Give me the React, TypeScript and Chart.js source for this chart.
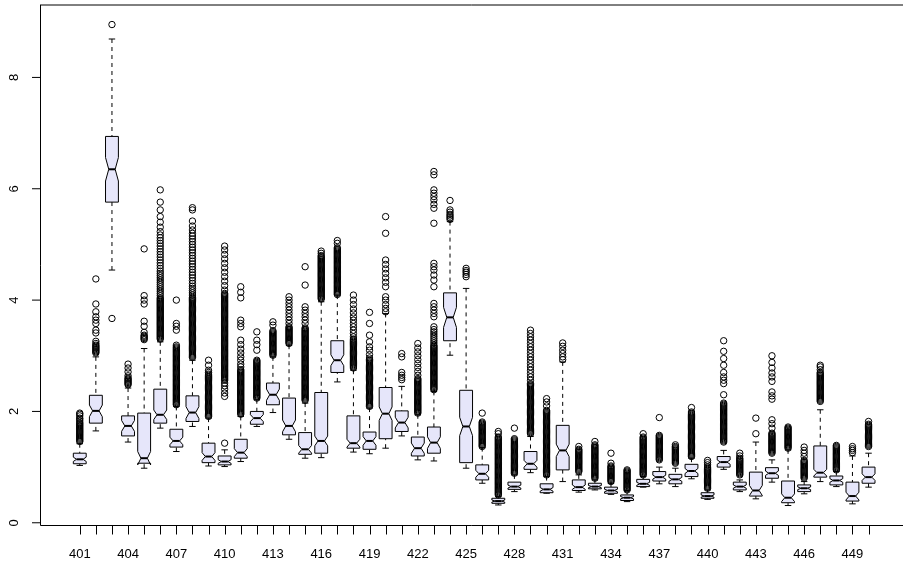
import { useEffect, useRef } from "react";
import { Chart, registerables } from "chart.js";

Chart.register(...registerables);

// Station codes 401..450
const stations: number[] = [
  401, 402, 403, 404, 405, 406, 407, 408, 409, 410,
  411, 412, 413, 414, 415, 416, 417, 418, 419, 420,
  421, 422, 423, 424, 425, 426, 427, 428, 429, 430,
  431, 432, 433, 434, 435, 436, 437, 438, 439, 440,
  441, 442, 443, 444, 445, 446, 447, 448, 449, 450,
];

// Five-number summaries per station
const whiskerLow: number[] = [
  1.03, 1.65, 4.54, 1.45, 0.98, 1.70, 1.28, 1.73, 1.02, 1.01,
  1.10, 1.73, 1.98, 1.50, 1.16, 1.17, 2.53, 1.27, 1.24, 1.34,
  1.56, 1.13, 1.11, 3.01, 0.98, 0.71, 0.32, 0.56, 0.90, 0.53,
  0.74, 0.55, 0.59, 0.51, 0.38, 0.64, 0.70, 0.65, 0.79, 0.42,
  0.96, 0.56, 0.43, 0.73, 0.31, 0.52, 0.74, 0.65, 0.34, 0.64,
];
const lowerHinge: number[] = [
  1.06, 1.79, 5.76, 1.56, 1.07, 1.79, 1.36, 1.82, 1.08, 1.04,
  1.16, 1.77, 2.12, 1.58, 1.23, 1.25, 2.70, 1.34, 1.32, 1.51,
  1.64, 1.20, 1.25, 3.27, 1.08, 0.77, 0.35, 0.60, 0.96, 0.54,
  0.95, 0.58, 0.61, 0.53, 0.40, 0.65, 0.75, 0.70, 0.83, 0.44,
  1.00, 0.59, 0.48, 0.80, 0.36, 0.56, 0.82, 0.68, 0.39, 0.71,
];
const medians: number[] = [
  1.14, 2.01, 6.35, 1.74, 1.16, 1.94, 1.47, 1.98, 1.19, 1.10,
  1.26, 1.88, 2.30, 1.74, 1.32, 1.47, 2.92, 1.43, 1.47, 1.96,
  1.80, 1.34, 1.44, 3.69, 1.73, 0.88, 0.39, 0.65, 1.06, 0.60,
  1.30, 0.64, 0.65, 0.58, 0.45, 0.70, 0.82, 0.78, 0.93, 0.48,
  1.09, 0.65, 0.58, 0.89, 0.45, 0.62, 0.90, 0.76, 0.48, 0.82,
];
const upperHinge: number[] = [
  1.25, 2.29, 6.94, 1.92, 1.97, 2.40, 1.68, 2.28, 1.43, 1.20,
  1.50, 2.00, 2.51, 2.24, 1.62, 2.34, 3.27, 1.92, 1.63, 2.43,
  2.01, 1.54, 1.72, 4.13, 2.38, 1.04, 0.44, 0.73, 1.28, 0.70,
  1.75, 0.77, 0.71, 0.64, 0.50, 0.78, 0.92, 0.87, 1.05, 0.54,
  1.19, 0.73, 0.91, 0.99, 0.75, 0.68, 1.38, 0.84, 0.73, 1.00,
];
const whiskerHigh: number[] = [
  1.42, 2.98, 8.69, 2.42, 3.13, 3.25, 2.09, 2.92, 1.88, 1.31,
  1.91, 2.21, 2.98, 3.19, 2.15, 3.97, 4.09, 2.74, 2.06, 3.76,
  2.45, 1.94, 2.36, 5.41, 4.21, 1.35, 0.47, 0.86, 1.55, 0.83,
  2.89, 0.86, 0.77, 0.71, 0.58, 0.83, 1.00, 0.98, 1.16, 0.59,
  1.30, 0.77, 1.45, 1.13, 1.31, 0.74, 2.03, 0.92, 1.20, 1.25,
];
// Observations per station (sets the notch height)
const sampleSizes: number[] = [
  60, 57, 78, 34, 141, 128, 56, 47, 63, 60,
  56, 34, 37, 98, 80, 390, 84, 170, 40, 146,
  37, 34, 51, 57, 155, 47, 60, 60, 68, 60,
  127, 60, 60, 60, 60, 60, 60, 60, 60, 60,
  60, 60, 56, 60, 80, 60, 218, 60, 60, 60,
];

// Points beyond the whiskers
const outliers: number[][] = [
  [1.46, 1.48, 1.5, 1.52, 1.54, 1.56, 1.58, 1.6, 1.62, 1.64, 1.66, 1.68, 1.7, 1.72, 1.74, 1.76, 1.78, 1.8, 1.83, 1.86, 1.88, 1.92, 1.95, 1.97],
  [3.05, 3.07, 3.09, 3.11, 3.13, 3.15, 3.17, 3.19, 3.22, 3.26, 3.41, 3.46, 3.58, 3.64, 3.7, 3.79, 3.93, 4.38],
  [3.67, 8.95],
  [2.48, 2.5, 2.52, 2.54, 2.56, 2.58, 2.6, 2.64, 2.71, 2.78, 2.85],
  [3.29, 3.31, 3.33, 3.35, 3.37, 3.42, 3.53, 3.62, 3.93, 4.0, 4.08, 4.92],
  [3.3, 3.32, 3.34, 3.36, 3.38, 3.4, 3.42, 3.44, 3.46, 3.48, 3.5, 3.52, 3.54, 3.56, 3.58, 3.6, 3.62, 3.64, 3.66, 3.68, 3.7, 3.72, 3.74, 3.76, 3.78, 3.8, 3.82, 3.84, 3.86, 3.88, 3.9, 3.92, 3.94, 3.96, 3.98, 4.0, 4.02, 4.04, 4.08, 4.12, 4.16, 4.2, 4.24, 4.28, 4.32, 4.36, 4.4, 4.44, 4.48, 4.52, 4.57, 4.62, 4.67, 4.72, 4.77, 4.82, 4.87, 4.92, 4.97, 5.02, 5.07, 5.12, 5.17, 5.23, 5.31, 5.4, 5.5, 5.62, 5.76, 5.98],
  [2.12, 2.14, 2.16, 2.18, 2.2, 2.22, 2.24, 2.26, 2.28, 2.3, 2.32, 2.34, 2.36, 2.38, 2.4, 2.42, 2.44, 2.46, 2.48, 2.5, 2.52, 2.54, 2.56, 2.58, 2.6, 2.62, 2.64, 2.66, 2.68, 2.7, 2.72, 2.74, 2.76, 2.78, 2.8, 2.82, 2.84, 2.86, 2.88, 2.9, 2.92, 2.94, 2.96, 2.98, 3.0, 3.02, 3.04, 3.06, 3.08, 3.1, 3.12, 3.14, 3.16, 3.19, 3.46, 3.53, 3.58, 4.0],
  [2.97, 2.99, 3.01, 3.03, 3.05, 3.07, 3.09, 3.11, 3.13, 3.15, 3.17, 3.19, 3.21, 3.23, 3.25, 3.27, 3.29, 3.31, 3.33, 3.35, 3.37, 3.39, 3.41, 3.43, 3.45, 3.47, 3.49, 3.51, 3.53, 3.55, 3.57, 3.59, 3.61, 3.63, 3.65, 3.67, 3.69, 3.71, 3.73, 3.75, 3.77, 3.79, 3.81, 3.83, 3.85, 3.87, 3.89, 3.91, 3.93, 3.95, 3.97, 3.99, 4.01, 4.03, 4.05, 4.09, 4.13, 4.17, 4.21, 4.25, 4.3, 4.35, 4.4, 4.45, 4.5, 4.55, 4.6, 4.65, 4.7, 4.75, 4.8, 4.85, 4.9, 4.95, 5.0, 5.05, 5.1, 5.15, 5.2, 5.26, 5.33, 5.42, 5.62, 5.66],
  [1.91, 1.93, 1.95, 1.97, 1.99, 2.01, 2.03, 2.05, 2.07, 2.09, 2.11, 2.13, 2.15, 2.17, 2.19, 2.21, 2.23, 2.25, 2.27, 2.29, 2.31, 2.33, 2.35, 2.37, 2.39, 2.41, 2.43, 2.45, 2.47, 2.49, 2.51, 2.53, 2.55, 2.57, 2.59, 2.61, 2.63, 2.65, 2.67, 2.7, 2.74, 2.83, 2.92],
  [1.43, 2.27, 2.33, 2.4, 2.46, 2.51, 2.56, 2.58, 2.6, 2.62, 2.64, 2.66, 2.68, 2.7, 2.72, 2.74, 2.76, 2.78, 2.8, 2.82, 2.84, 2.86, 2.88, 2.9, 2.92, 2.94, 2.96, 2.98, 3.0, 3.02, 3.04, 3.06, 3.08, 3.1, 3.12, 3.14, 3.16, 3.18, 3.2, 3.22, 3.24, 3.26, 3.28, 3.3, 3.32, 3.34, 3.36, 3.38, 3.4, 3.42, 3.44, 3.46, 3.48, 3.5, 3.52, 3.54, 3.56, 3.58, 3.6, 3.62, 3.64, 3.66, 3.68, 3.7, 3.72, 3.74, 3.76, 3.78, 3.8, 3.82, 3.84, 3.86, 3.88, 3.9, 3.92, 3.94, 3.96, 3.98, 4.0, 4.02, 4.04, 4.06, 4.08, 4.1, 4.12, 4.18, 4.26, 4.34, 4.42, 4.5, 4.58, 4.66, 4.74, 4.82, 4.9, 4.97],
  [1.95, 1.97, 1.99, 2.01, 2.03, 2.05, 2.07, 2.09, 2.11, 2.13, 2.15, 2.17, 2.19, 2.21, 2.23, 2.25, 2.27, 2.29, 2.31, 2.33, 2.35, 2.37, 2.39, 2.41, 2.43, 2.45, 2.47, 2.49, 2.51, 2.53, 2.55, 2.57, 2.59, 2.61, 2.63, 2.65, 2.67, 2.69, 2.71, 2.73, 2.75, 2.8, 2.85, 2.92, 2.98, 3.05, 3.12, 3.2, 3.28, 3.52, 3.58, 3.64, 4.04, 4.14, 4.24],
  [2.24, 2.26, 2.28, 2.3, 2.32, 2.34, 2.36, 2.38, 2.4, 2.42, 2.44, 2.46, 2.48, 2.5, 2.52, 2.54, 2.56, 2.58, 2.6, 2.62, 2.64, 2.66, 2.68, 2.7, 2.72, 2.74, 2.76, 2.78, 2.8, 2.82, 2.84, 2.86, 2.88, 2.9, 2.92, 3.1, 3.2, 3.28, 3.43],
  [3.01, 3.03, 3.05, 3.07, 3.09, 3.11, 3.13, 3.15, 3.17, 3.19, 3.21, 3.23, 3.25, 3.27, 3.29, 3.31, 3.33, 3.35, 3.37, 3.39, 3.41, 3.43, 3.45, 3.55, 3.61],
  [3.22, 3.24, 3.26, 3.28, 3.3, 3.32, 3.34, 3.36, 3.38, 3.4, 3.42, 3.44, 3.46, 3.48, 3.5, 3.52, 3.58, 3.64, 3.7, 3.76, 3.82, 3.88, 3.94, 4.0, 4.06],
  [2.2, 2.22, 2.24, 2.26, 2.28, 2.3, 2.32, 2.34, 2.36, 2.38, 2.4, 2.42, 2.44, 2.46, 2.48, 2.5, 2.52, 2.54, 2.56, 2.58, 2.6, 2.62, 2.64, 2.66, 2.68, 2.7, 2.72, 2.74, 2.76, 2.78, 2.8, 2.82, 2.84, 2.86, 2.88, 2.9, 2.92, 2.94, 2.96, 2.98, 3.0, 3.02, 3.04, 3.06, 3.08, 3.1, 3.12, 3.14, 3.16, 3.18, 3.2, 3.22, 3.24, 3.26, 3.28, 3.3, 3.32, 3.34, 3.36, 3.38, 3.4, 3.42, 3.44, 3.46, 3.48, 3.5, 3.58, 3.64, 3.7, 3.76, 3.82, 3.88, 4.27, 4.6],
  [4.02, 4.04, 4.06, 4.08, 4.1, 4.12, 4.14, 4.16, 4.18, 4.2, 4.22, 4.24, 4.26, 4.28, 4.3, 4.32, 4.34, 4.36, 4.38, 4.4, 4.42, 4.44, 4.46, 4.48, 4.5, 4.52, 4.54, 4.56, 4.58, 4.6, 4.62, 4.64, 4.66, 4.68, 4.7, 4.72, 4.74, 4.76, 4.78, 4.8, 4.84, 4.88],
  [4.1, 4.12, 4.14, 4.16, 4.18, 4.2, 4.22, 4.24, 4.26, 4.28, 4.3, 4.32, 4.34, 4.36, 4.38, 4.4, 4.42, 4.44, 4.46, 4.48, 4.5, 4.52, 4.54, 4.56, 4.58, 4.6, 4.62, 4.64, 4.66, 4.68, 4.7, 4.72, 4.74, 4.76, 4.78, 4.8, 4.82, 4.84, 4.86, 4.88, 4.9, 4.92, 4.94, 5.02, 5.07],
  [2.78, 2.8, 2.82, 2.84, 2.86, 2.88, 2.9, 2.92, 2.94, 2.96, 2.98, 3.0, 3.02, 3.04, 3.06, 3.08, 3.1, 3.12, 3.14, 3.16, 3.18, 3.2, 3.22, 3.24, 3.26, 3.28, 3.3, 3.34, 3.4, 3.46, 3.52, 3.58, 3.64, 3.7, 3.77, 3.84, 3.92, 4.0, 4.09],
  [2.09, 2.11, 2.13, 2.15, 2.17, 2.19, 2.21, 2.23, 2.25, 2.27, 2.29, 2.31, 2.33, 2.35, 2.37, 2.39, 2.41, 2.43, 2.45, 2.47, 2.49, 2.51, 2.53, 2.55, 2.57, 2.59, 2.61, 2.63, 2.65, 2.67, 2.69, 2.71, 2.73, 2.75, 2.77, 2.79, 2.81, 2.83, 2.85, 2.87, 2.89, 2.91, 2.93, 2.96, 3.02, 3.1, 3.16, 3.25, 3.37, 3.58, 3.78],
  [3.79, 3.85, 3.92, 4.0, 4.06, 4.24, 4.32, 4.4, 4.48, 4.56, 4.64, 4.72, 5.2, 5.5],
  [2.57, 2.61, 2.65, 2.7, 2.98, 3.04],
  [1.97, 1.99, 2.01, 2.03, 2.05, 2.07, 2.09, 2.11, 2.13, 2.15, 2.17, 2.19, 2.21, 2.23, 2.25, 2.27, 2.29, 2.31, 2.33, 2.35, 2.37, 2.39, 2.41, 2.43, 2.45, 2.47, 2.49, 2.51, 2.53, 2.55, 2.57, 2.59, 2.65, 2.72, 2.79, 2.86, 2.93, 3.0, 3.07, 3.14, 3.22],
  [2.39, 2.41, 2.43, 2.45, 2.47, 2.49, 2.51, 2.53, 2.55, 2.57, 2.59, 2.61, 2.63, 2.65, 2.67, 2.69, 2.71, 2.73, 2.75, 2.77, 2.79, 2.81, 2.83, 2.85, 2.87, 2.89, 2.91, 2.93, 2.95, 2.97, 2.99, 3.01, 3.03, 3.05, 3.07, 3.09, 3.11, 3.13, 3.15, 3.17, 3.19, 3.23, 3.27, 3.31, 3.35, 3.39, 3.43, 3.47, 3.52, 3.7, 3.76, 3.82, 3.88, 3.94, 4.24, 4.36, 4.45, 4.54, 4.6, 4.66, 5.38, 5.65, 5.72, 5.8, 5.86, 5.92, 5.98, 6.25, 6.31],
  [5.45, 5.48, 5.51, 5.54, 5.58, 5.62, 5.79],
  [4.42, 4.46, 4.5, 4.53, 4.57],
  [1.37, 1.39, 1.41, 1.43, 1.45, 1.47, 1.49, 1.51, 1.53, 1.55, 1.57, 1.59, 1.61, 1.63, 1.65, 1.67, 1.69, 1.71, 1.73, 1.75, 1.77, 1.79, 1.81, 1.97],
  [0.5, 0.52, 0.54, 0.56, 0.58, 0.6, 0.62, 0.64, 0.66, 0.68, 0.7, 0.72, 0.74, 0.76, 0.78, 0.8, 0.82, 0.84, 0.86, 0.88, 0.9, 0.92, 0.94, 0.96, 0.98, 1.0, 1.02, 1.04, 1.06, 1.08, 1.1, 1.12, 1.14, 1.16, 1.18, 1.2, 1.22, 1.24, 1.26, 1.28, 1.3, 1.32, 1.34, 1.36, 1.38, 1.4, 1.42, 1.44, 1.46, 1.48, 1.5, 1.52, 1.54, 1.6, 1.64],
  [0.89, 0.91, 0.93, 0.95, 0.97, 0.99, 1.01, 1.03, 1.05, 1.07, 1.09, 1.11, 1.13, 1.15, 1.17, 1.19, 1.21, 1.23, 1.25, 1.27, 1.29, 1.31, 1.33, 1.35, 1.37, 1.39, 1.41, 1.43, 1.45, 1.47, 1.49, 1.51, 1.7],
  [1.6, 1.62, 1.64, 1.66, 1.68, 1.7, 1.72, 1.74, 1.76, 1.78, 1.8, 1.82, 1.84, 1.86, 1.88, 1.9, 1.92, 1.94, 1.96, 1.98, 2.0, 2.02, 2.04, 2.06, 2.08, 2.1, 2.12, 2.14, 2.16, 2.18, 2.2, 2.22, 2.24, 2.26, 2.28, 2.3, 2.32, 2.34, 2.36, 2.38, 2.4, 2.42, 2.44, 2.46, 2.48, 2.5, 2.56, 2.62, 2.68, 2.74, 2.8, 2.86, 2.92, 2.98, 3.04, 3.1, 3.16, 3.22, 3.28, 3.34, 3.4, 3.46],
  [0.86, 0.88, 0.9, 0.92, 0.94, 0.96, 0.98, 1.0, 1.02, 1.04, 1.06, 1.08, 1.1, 1.12, 1.14, 1.16, 1.18, 1.2, 1.22, 1.24, 1.26, 1.28, 1.3, 1.32, 1.34, 1.36, 1.38, 1.4, 1.42, 1.44, 1.46, 1.48, 1.5, 1.52, 1.54, 1.56, 1.58, 1.6, 1.62, 1.64, 1.66, 1.68, 1.7, 1.72, 1.74, 1.76, 1.78, 1.8, 1.82, 1.84, 1.86, 1.88, 1.9, 1.92, 1.94, 1.96, 1.98, 2.0, 2.02, 2.1, 2.17, 2.23],
  [2.93, 2.98, 3.04, 3.1, 3.17, 3.23],
  [0.92, 0.94, 0.96, 0.98, 1.0, 1.02, 1.04, 1.06, 1.08, 1.1, 1.12, 1.14, 1.16, 1.18, 1.2, 1.22, 1.24, 1.26, 1.28, 1.3, 1.32, 1.37],
  [0.8, 0.82, 0.84, 0.86, 0.88, 0.9, 0.92, 0.94, 0.96, 0.98, 1.0, 1.02, 1.04, 1.06, 1.08, 1.1, 1.12, 1.14, 1.16, 1.18, 1.2, 1.22, 1.24, 1.26, 1.28, 1.3, 1.32, 1.34, 1.36, 1.38, 1.4, 1.46],
  [0.74, 0.76, 0.78, 0.8, 0.82, 0.84, 0.86, 0.88, 0.9, 0.92, 0.94, 0.96, 0.98, 1.0, 1.02, 1.07, 1.25],
  [0.59, 0.61, 0.63, 0.65, 0.67, 0.69, 0.71, 0.73, 0.75, 0.77, 0.79, 0.81, 0.83, 0.85, 0.87, 0.89, 0.91, 0.93, 0.95],
  [0.86, 0.88, 0.9, 0.92, 0.94, 0.96, 0.98, 1.0, 1.02, 1.04, 1.06, 1.08, 1.1, 1.12, 1.14, 1.16, 1.18, 1.2, 1.22, 1.24, 1.26, 1.28, 1.3, 1.32, 1.34, 1.36, 1.38, 1.4, 1.42, 1.44, 1.46, 1.48, 1.5, 1.52, 1.54, 1.6],
  [1.13, 1.15, 1.17, 1.19, 1.21, 1.23, 1.25, 1.27, 1.29, 1.31, 1.33, 1.35, 1.37, 1.39, 1.41, 1.43, 1.45, 1.47, 1.49, 1.51, 1.53, 1.55, 1.57, 1.89],
  [1.07, 1.09, 1.11, 1.13, 1.15, 1.17, 1.19, 1.21, 1.23, 1.25, 1.27, 1.29, 1.31, 1.33, 1.35, 1.37, 1.4],
  [1.19, 1.21, 1.23, 1.25, 1.27, 1.29, 1.31, 1.33, 1.35, 1.37, 1.39, 1.41, 1.43, 1.45, 1.47, 1.49, 1.51, 1.53, 1.55, 1.57, 1.59, 1.61, 1.63, 1.65, 1.67, 1.69, 1.71, 1.73, 1.75, 1.77, 1.79, 1.81, 1.83, 1.85, 1.87, 1.89, 1.91, 1.93, 1.95, 1.97, 1.99, 2.07],
  [0.62, 0.64, 0.66, 0.68, 0.7, 0.72, 0.74, 0.76, 0.78, 0.8, 0.82, 0.84, 0.86, 0.88, 0.9, 0.92, 0.94, 0.96, 0.98, 1.0, 1.04, 1.08, 1.12],
  [1.45, 1.47, 1.49, 1.51, 1.53, 1.55, 1.57, 1.59, 1.61, 1.63, 1.65, 1.67, 1.69, 1.71, 1.73, 1.75, 1.77, 1.79, 1.81, 1.83, 1.85, 1.87, 1.89, 1.91, 1.93, 1.95, 1.97, 1.99, 2.01, 2.03, 2.05, 2.07, 2.09, 2.11, 2.13, 2.15, 2.3, 2.5, 2.56, 2.62, 2.7, 2.83, 2.95, 3.08, 3.27],
  [0.86, 0.88, 0.9, 0.92, 0.94, 0.96, 0.98, 1.0, 1.02, 1.04, 1.06, 1.08, 1.1, 1.12, 1.14, 1.16, 1.2, 1.25],
  [1.6, 1.88],
  [1.25, 1.27, 1.29, 1.31, 1.33, 1.35, 1.37, 1.39, 1.41, 1.43, 1.45, 1.47, 1.49, 1.51, 1.53, 1.55, 1.57, 1.59, 1.61, 1.7, 1.78, 1.85, 2.22, 2.28, 2.35, 2.54, 2.62, 2.69, 2.78, 2.88, 3.0],
  [1.34, 1.36, 1.38, 1.4, 1.42, 1.44, 1.46, 1.48, 1.5, 1.52, 1.54, 1.56, 1.58, 1.6, 1.62, 1.64, 1.66, 1.68, 1.7, 1.72],
  [0.8, 0.82, 0.84, 0.86, 0.88, 0.9, 0.92, 0.94, 0.96, 0.98, 1.0, 1.02, 1.04, 1.06, 1.08, 1.1, 1.12, 1.19, 1.25, 1.3, 1.36],
  [2.18, 2.2, 2.22, 2.24, 2.26, 2.28, 2.3, 2.32, 2.34, 2.36, 2.38, 2.4, 2.42, 2.44, 2.46, 2.48, 2.5, 2.52, 2.54, 2.56, 2.58, 2.6, 2.62, 2.64, 2.66, 2.68, 2.7, 2.75, 2.8, 2.83],
  [0.95, 0.97, 0.99, 1.01, 1.03, 1.05, 1.07, 1.09, 1.11, 1.13, 1.15, 1.17, 1.19, 1.21, 1.23, 1.25, 1.27, 1.29, 1.31, 1.33, 1.35, 1.37, 1.39],
  [1.26, 1.3, 1.33, 1.37],
  [1.37, 1.39, 1.41, 1.43, 1.45, 1.47, 1.49, 1.51, 1.53, 1.55, 1.57, 1.59, 1.61, 1.63, 1.65, 1.67, 1.69, 1.71, 1.73, 1.75, 1.77, 1.82],
];

const yTickValues: number[] = [0, 2, 4, 6, 8];
const xLabelledStations: number[] = [401, 404, 407, 410, 413, 416, 419, 422, 425, 428, 431, 434, 437, 440, 443, 446, 449];

const BOX_HALF = 0.4; // half of boxwex 0.8, in category units
const NOTCH_FRAC = 0.5;
const STAPLE_FRAC = 0.5;
const FILL = "#E6E6FA";
const FONT = '13px "Liberation Sans", Arial, Helvetica, sans-serif';

const notchedBoxes = {
  id: "notchedBoxes",
  beforeDatasetsDraw(chart: any) {
    const { ctx, scales } = chart;
    const xs = scales.x;
    const ys = scales.y;
    const Y = (v: number) => ys.getPixelForValue(v);
    ctx.save();
    ctx.strokeStyle = "#000";
    ctx.lineWidth = 1;
    stations.forEach((s, i) => {
      const cx = xs.getPixelForValue(s);
      const w = xs.getPixelForValue(s + BOX_HALF) - cx;
      const q1 = lowerHinge[i];
      const q3 = upperHinge[i];
      const med = medians[i];
      const half = (1.58 * (q3 - q1)) / Math.sqrt(sampleSizes[i]);
      const c1 = med - half;
      const c2 = med + half;

      // dashed whiskers
      ctx.setLineDash([4, 4]);
      ctx.beginPath();
      ctx.moveTo(cx, Y(whiskerLow[i]));
      ctx.lineTo(cx, Y(q1));
      ctx.moveTo(cx, Y(whiskerHigh[i]));
      ctx.lineTo(cx, Y(q3));
      ctx.stroke();
      ctx.setLineDash([]);

      // staples
      const sw = w * STAPLE_FRAC;
      ctx.beginPath();
      ctx.moveTo(cx - sw, Y(whiskerLow[i]));
      ctx.lineTo(cx + sw, Y(whiskerLow[i]));
      ctx.moveTo(cx - sw, Y(whiskerHigh[i]));
      ctx.lineTo(cx + sw, Y(whiskerHigh[i]));
      ctx.stroke();

      // notched box
      const nw = w * NOTCH_FRAC;
      ctx.beginPath();
      ctx.moveTo(cx - w, Y(q1));
      ctx.lineTo(cx + w, Y(q1));
      ctx.lineTo(cx + w, Y(c1));
      ctx.lineTo(cx + nw, Y(med));
      ctx.lineTo(cx + w, Y(c2));
      ctx.lineTo(cx + w, Y(q3));
      ctx.lineTo(cx - w, Y(q3));
      ctx.lineTo(cx - w, Y(c2));
      ctx.lineTo(cx - nw, Y(med));
      ctx.lineTo(cx - w, Y(c1));
      ctx.closePath();
      ctx.fillStyle = FILL;
      ctx.fill();
      ctx.stroke();

      // median
      ctx.lineWidth = 2;
      ctx.beginPath();
      ctx.moveTo(cx - nw, Y(med));
      ctx.lineTo(cx + nw, Y(med));
      ctx.stroke();
      ctx.lineWidth = 1;
    });
    ctx.restore();
  },
};

const frameAndAxes = {
  id: "frameAndAxes",
  afterDraw(chart: any) {
    const { ctx, chartArea, scales } = chart;
    const xs = scales.x;
    const ys = scales.y;
    const { left, top, right, bottom } = chartArea;
    ctx.save();
    ctx.strokeStyle = "#000";
    ctx.lineWidth = 1;
    ctx.beginPath();
    ctx.moveTo(left + 0.5, top);
    ctx.lineTo(left + 0.5, bottom + 0.5);
    ctx.lineTo(right, bottom + 0.5);
    ctx.moveTo(left, top);
    ctx.lineTo(right, top);
    ctx.stroke();

    // y axis ticks and rotated labels
    ctx.fillStyle = "#000";
    ctx.font = FONT;
    yTickValues.forEach((v) => {
      const py = ys.getPixelForValue(v);
      ctx.beginPath();
      ctx.moveTo(left - 8, py);
      ctx.lineTo(left, py);
      ctx.stroke();
      ctx.save();
      ctx.translate(18, py);
      ctx.rotate(-Math.PI / 2);
      ctx.textAlign = "center";
      ctx.textBaseline = "alphabetic";
      ctx.fillText(String(v), 0, 0);
      ctx.restore();
    });

    // x axis ticks for every station, labels where they fit
    stations.forEach((s) => {
      const px = Math.round(xs.getPixelForValue(s)) + 0.5;
      ctx.beginPath();
      ctx.moveTo(px, bottom);
      ctx.lineTo(px, bottom + 9.5);
      ctx.stroke();
    });
    ctx.textAlign = "center";
    ctx.textBaseline = "alphabetic";
    xLabelledStations.forEach((s) => {
      ctx.fillText(String(s), xs.getPixelForValue(s), 558);
    });
    ctx.restore();
  },
};

export default function App() {
  const canvasRef = useRef<HTMLCanvasElement | null>(null);

  useEffect(() => {
    const canvas = canvasRef.current;
    if (!canvas) return;
    const points = outliers.flatMap((vals, i) => vals.map((v) => ({ x: stations[i], y: v })));
    const chart = new Chart(canvas, {
      type: "scatter",
      data: {
        datasets: [
          {
            data: points,
            pointStyle: "circle",
            pointRadius: 3.2,
            pointBorderWidth: 1,
            pointBorderColor: "#000",
            pointBackgroundColor: "rgba(0,0,0,0)",
            showLine: false,
          },
        ],
      },
      options: {
        responsive: false,
        animation: false,
        devicePixelRatio: 1,
        events: [],
        layout: { padding: { left: 40, top: 5, right: 0, bottom: 36 } },
        plugins: { legend: { display: false }, tooltip: { enabled: false } },
        scales: {
          x: { type: "linear", min: 398.53, max: 452.14, display: false },
          y: { type: "linear", min: -0.04, max: 9.301, display: false },
        },
      },
      plugins: [notchedBoxes, frameAndAxes],
    });
    return () => chart.destroy();
  }, []);

  return (
    <div style={{ position: "absolute", left: 0, top: 0, width: 908, height: 561, background: "#fff" }}>
      <canvas ref={canvasRef} width={908} height={561} />
    </div>
  );
}
